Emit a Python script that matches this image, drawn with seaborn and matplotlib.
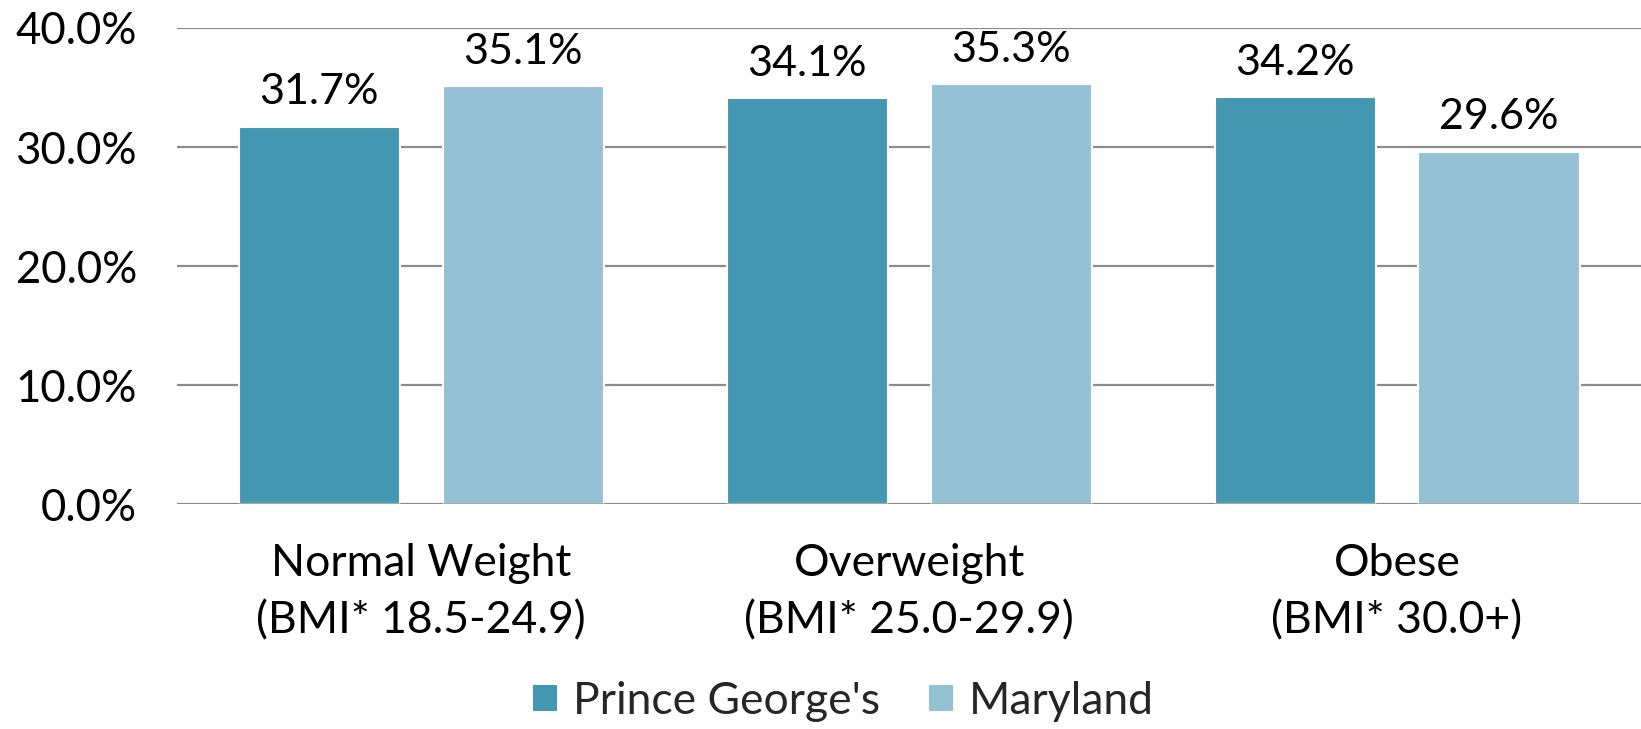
import matplotlib
matplotlib.use("Agg")
import matplotlib.pyplot as plt
import seaborn as sns
import pandas as pd
from matplotlib.patches import Patch

categories = ["Normal Weight\n(BMI* 18.5-24.9)", "Overweight\n(BMI* 25.0-29.9)", "Obese\n(BMI* 30.0+)"]
series = ["Prince George's", "Maryland"]
pg_values = [31.7, 34.1, 34.2]
md_values = [35.1, 35.3, 29.6]
yticks = [0, 10, 20, 30, 40]
colors = ["#4397B0", "#94C2D4"]

df = pd.DataFrame({
    "category": categories * 2,
    "series": [series[0]] * 3 + [series[1]] * 3,
    "value": pg_values + md_values,
})

sns.set_theme(style="white")
plt.rcParams["font.family"] = ["Lato", "DejaVu Sans"]

fig = plt.figure(figsize=(16.41, 7.29), dpi=100)
ax = fig.add_axes([0.108, 0.3086, 0.892, 0.653])

sns.barplot(data=df, x="category", y="value", hue="series", order=categories,
            hue_order=series, palette=colors, width=0.836, gap=0.21,
            edgecolor="white", linewidth=1.5, saturation=1, ax=ax, legend=False, zorder=3)

ax.set_ylim(0, 40)
ax.set_xlim(-0.5, 2.5)
ax.set_yticks(yticks)
ax.set_yticklabels([f"{v:.1f}%" for v in yticks])
ax.yaxis.grid(True, color="#8c8c8c", linewidth=1.6, zorder=0)
ax.set_axisbelow(True)
for s in ["top", "right", "left", "bottom"]:
    ax.spines[s].set_visible(False)
ax.axhline(0, color="#8c8c8c", linewidth=1.8, zorder=4)
ax.tick_params(axis="y", length=0, pad=29, labelsize=31.5, labelcolor="black")
ax.tick_params(axis="x", length=0, pad=28, labelsize=32, labelcolor="black")
ax.set_xlabel("")
ax.set_ylabel("")
for lbl in ax.get_xticklabels():
    lbl.set_linespacing(1.5)

for cont in ax.containers:
    ax.bar_label(cont, labels=[f"{v:.1f}%" for v in cont.datavalues],
                 padding=11, fontsize=31, color="black")

handles = [Patch(facecolor=c, edgecolor="none") for c in colors]
fig.legend(handles, series, loc="lower center", bbox_to_anchor=(0.514, -0.045), ncol=2,
           frameon=False, fontsize=32, handlelength=0.55, handleheight=0.55,
           handletextpad=0.35, columnspacing=1.1)

fig.savefig("out.png", dpi=100)
